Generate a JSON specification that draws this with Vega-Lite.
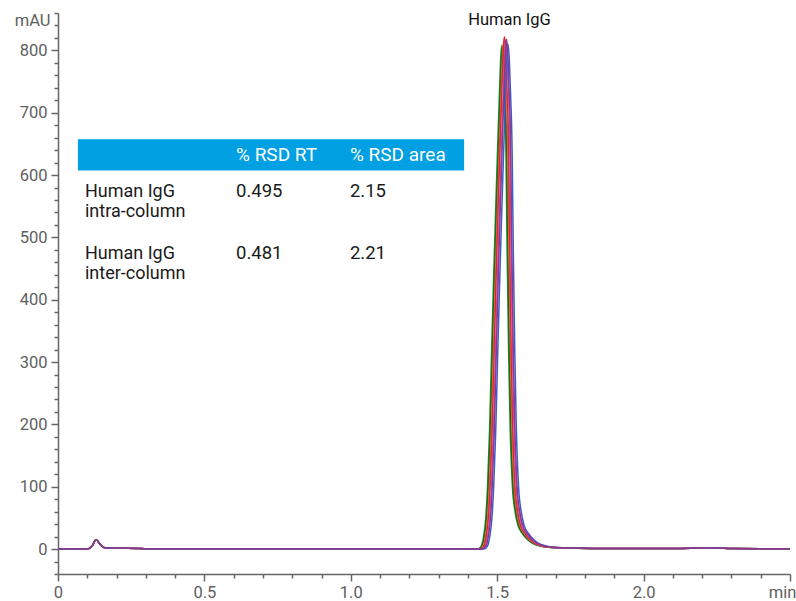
{
"$schema": "https://vega.github.io/schema/vega-lite/v6.json",
"width": 732, "height": 561,
"autosize": {"type": "none"},
"padding": {"left": 58, "top": 13, "right": 6, "bottom": 27},
"background": "white",
"config": {"view": {"stroke": null}, "font": "Roboto", "text": {"font": "Roboto"}},
"resolve": {"axis": {"x": "independent", "y": "independent"}},
"datasets": {
"traces": [
{"s":"1","t":0,"y":0},{"s":"1","t":0.1,"y":0},{"s":"1","t":0.115,"y":4},{"s":"1","t":0.13,"y":15},{"s":"1","t":0.145,"y":7},{"s":"1","t":0.16,"y":2},{"s":"1","t":0.2,"y":1.5},{"s":"1","t":0.28,"y":1},{"s":"1","t":0.32,"y":0.2},
{"s":"1","t":1.416,"y":0},{"s":"1","t":1.436,"y":0.5},{"s":"1","t":1.446,"y":5},{"s":"1","t":1.4535,"y":20},{"s":"1","t":1.461,"y":50},{"s":"1","t":1.467,"y":100},{"s":"1","t":1.474,"y":190},{"s":"1","t":1.481,"y":318},{"s":"1","t":1.488,"y":438},{"s":"1","t":1.495,"y":547},{"s":"1","t":1.501,"y":637},{"s":"1","t":1.508,"y":736},{"s":"1","t":1.513,"y":796},{"s":"1","t":1.516,"y":808},{"s":"1","t":1.52,"y":786},{"s":"1","t":1.524,"y":736},{"s":"1","t":1.53,"y":637},{"s":"1","t":1.534,"y":478},{"s":"1","t":1.539,"y":318},{"s":"1","t":1.544,"y":200},{"s":"1","t":1.552,"y":100},{"s":"1","t":1.561,"y":60},{"s":"1","t":1.571,"y":38},{"s":"1","t":1.586,"y":25},{"s":"1","t":1.604,"y":15},{"s":"1","t":1.626,"y":8},{"s":"1","t":1.646,"y":5},{"s":"1","t":1.671,"y":3},{"s":"1","t":1.716,"y":2},{"s":"1","t":1.816,"y":1},
{"s":"1","t":1.9,"y":1},{"s":"1","t":2.0,"y":0.8},{"s":"1","t":2.1,"y":0.8},{"s":"1","t":2.16,"y":1.2},{"s":"1","t":2.2,"y":2},{"s":"1","t":2.25,"y":1.8},{"s":"1","t":2.3,"y":0.8},{"s":"1","t":2.4,"y":0.5},{"s":"1","t":2.5,"y":0.5},

{"s":"2","t":0,"y":0},{"s":"2","t":0.1,"y":0},{"s":"2","t":0.115,"y":4},{"s":"2","t":0.13,"y":15},{"s":"2","t":0.145,"y":7},{"s":"2","t":0.16,"y":2},{"s":"2","t":0.2,"y":1.5},{"s":"2","t":0.28,"y":1},{"s":"2","t":0.32,"y":0.2},
{"s":"2","t":1.419,"y":0},{"s":"2","t":1.439,"y":0.5},{"s":"2","t":1.449,"y":5},{"s":"2","t":1.4565,"y":20},{"s":"2","t":1.464,"y":50},{"s":"2","t":1.47,"y":100},{"s":"2","t":1.477,"y":190},{"s":"2","t":1.484,"y":318},{"s":"2","t":1.491,"y":436},{"s":"2","t":1.498,"y":545},{"s":"2","t":1.504,"y":634},{"s":"2","t":1.511,"y":733},{"s":"2","t":1.516,"y":793},{"s":"2","t":1.519,"y":805},{"s":"2","t":1.523,"y":783},{"s":"2","t":1.527,"y":733},{"s":"2","t":1.533,"y":634},{"s":"2","t":1.537,"y":476},{"s":"2","t":1.542,"y":318},{"s":"2","t":1.547,"y":200},{"s":"2","t":1.555,"y":100},{"s":"2","t":1.564,"y":60},{"s":"2","t":1.574,"y":38},{"s":"2","t":1.589,"y":25},{"s":"2","t":1.607,"y":15},{"s":"2","t":1.629,"y":8},{"s":"2","t":1.649,"y":5},{"s":"2","t":1.674,"y":3},{"s":"2","t":1.719,"y":2},{"s":"2","t":1.819,"y":1},
{"s":"2","t":1.9,"y":1},{"s":"2","t":2.0,"y":0.8},{"s":"2","t":2.1,"y":0.8},{"s":"2","t":2.16,"y":1.2},{"s":"2","t":2.2,"y":2},{"s":"2","t":2.25,"y":1.8},{"s":"2","t":2.3,"y":0.8},{"s":"2","t":2.4,"y":0.5},{"s":"2","t":2.5,"y":0.5},

{"s":"3","t":0,"y":0},{"s":"3","t":0.1,"y":0},{"s":"3","t":0.115,"y":4},{"s":"3","t":0.13,"y":15},{"s":"3","t":0.145,"y":7},{"s":"3","t":0.16,"y":2},{"s":"3","t":0.2,"y":1.5},{"s":"3","t":0.28,"y":1},{"s":"3","t":0.32,"y":0.2},
{"s":"3","t":1.422,"y":0},{"s":"3","t":1.442,"y":0.5},{"s":"3","t":1.452,"y":5},{"s":"3","t":1.4595,"y":20},{"s":"3","t":1.467,"y":50},{"s":"3","t":1.473,"y":100},{"s":"3","t":1.48,"y":190},{"s":"3","t":1.487,"y":318},{"s":"3","t":1.494,"y":440},{"s":"3","t":1.501,"y":550},{"s":"3","t":1.507,"y":640},{"s":"3","t":1.514,"y":740},{"s":"3","t":1.519,"y":800},{"s":"3","t":1.522,"y":812},{"s":"3","t":1.526,"y":790},{"s":"3","t":1.53,"y":740},{"s":"3","t":1.536,"y":640},{"s":"3","t":1.54,"y":480},{"s":"3","t":1.545,"y":318},{"s":"3","t":1.55,"y":200},{"s":"3","t":1.558,"y":100},{"s":"3","t":1.567,"y":60},{"s":"3","t":1.577,"y":38},{"s":"3","t":1.592,"y":25},{"s":"3","t":1.61,"y":15},{"s":"3","t":1.632,"y":8},{"s":"3","t":1.652,"y":5},{"s":"3","t":1.677,"y":3},{"s":"3","t":1.722,"y":2},{"s":"3","t":1.822,"y":1},
{"s":"3","t":1.9,"y":1},{"s":"3","t":2.0,"y":0.8},{"s":"3","t":2.1,"y":0.8},{"s":"3","t":2.16,"y":1.2},{"s":"3","t":2.2,"y":2},{"s":"3","t":2.25,"y":1.8},{"s":"3","t":2.3,"y":0.8},{"s":"3","t":2.4,"y":0.5},{"s":"3","t":2.5,"y":0.5},

{"s":"4","t":0,"y":0},{"s":"4","t":0.1,"y":0},{"s":"4","t":0.115,"y":4},{"s":"4","t":0.13,"y":15},{"s":"4","t":0.145,"y":7},{"s":"4","t":0.16,"y":2},{"s":"4","t":0.2,"y":1.5},{"s":"4","t":0.28,"y":1},{"s":"4","t":0.32,"y":0.2},
{"s":"4","t":1.425,"y":0},{"s":"4","t":1.445,"y":0.5},{"s":"4","t":1.455,"y":5},{"s":"4","t":1.4625,"y":20},{"s":"4","t":1.47,"y":50},{"s":"4","t":1.476,"y":100},{"s":"4","t":1.483,"y":190},{"s":"4","t":1.49,"y":318},{"s":"4","t":1.497,"y":445},{"s":"4","t":1.504,"y":557},{"s":"4","t":1.51,"y":648},{"s":"4","t":1.517,"y":749},{"s":"4","t":1.522,"y":810},{"s":"4","t":1.525,"y":822},{"s":"4","t":1.529,"y":800},{"s":"4","t":1.533,"y":749},{"s":"4","t":1.539,"y":648},{"s":"4","t":1.543,"y":486},{"s":"4","t":1.548,"y":318},{"s":"4","t":1.553,"y":200},{"s":"4","t":1.561,"y":100},{"s":"4","t":1.57,"y":60},{"s":"4","t":1.58,"y":38},{"s":"4","t":1.595,"y":25},{"s":"4","t":1.613,"y":15},{"s":"4","t":1.635,"y":8},{"s":"4","t":1.655,"y":5},{"s":"4","t":1.68,"y":3},{"s":"4","t":1.725,"y":2},{"s":"4","t":1.825,"y":1},
{"s":"4","t":1.9,"y":1},{"s":"4","t":2.0,"y":0.8},{"s":"4","t":2.1,"y":0.8},{"s":"4","t":2.16,"y":1.2},{"s":"4","t":2.2,"y":2},{"s":"4","t":2.25,"y":1.8},{"s":"4","t":2.3,"y":0.8},{"s":"4","t":2.4,"y":0.5},{"s":"4","t":2.5,"y":0.5},

{"s":"5","t":0,"y":0},{"s":"5","t":0.1,"y":0},{"s":"5","t":0.115,"y":4},{"s":"5","t":0.13,"y":15},{"s":"5","t":0.145,"y":7},{"s":"5","t":0.16,"y":2},{"s":"5","t":0.2,"y":1.5},{"s":"5","t":0.28,"y":1},{"s":"5","t":0.32,"y":0.2},
{"s":"5","t":1.429,"y":0},{"s":"5","t":1.449,"y":0.5},{"s":"5","t":1.459,"y":5},{"s":"5","t":1.4665,"y":20},{"s":"5","t":1.474,"y":50},{"s":"5","t":1.48,"y":100},{"s":"5","t":1.487,"y":190},{"s":"5","t":1.494,"y":318},{"s":"5","t":1.501,"y":442},{"s":"5","t":1.508,"y":552},{"s":"5","t":1.514,"y":642},{"s":"5","t":1.521,"y":743},{"s":"5","t":1.526,"y":803},{"s":"5","t":1.529,"y":815},{"s":"5","t":1.533,"y":793},{"s":"5","t":1.537,"y":743},{"s":"5","t":1.543,"y":642},{"s":"5","t":1.547,"y":482},{"s":"5","t":1.552,"y":318},{"s":"5","t":1.557,"y":200},{"s":"5","t":1.565,"y":100},{"s":"5","t":1.574,"y":60},{"s":"5","t":1.584,"y":38},{"s":"5","t":1.599,"y":25},{"s":"5","t":1.617,"y":15},{"s":"5","t":1.639,"y":8},{"s":"5","t":1.659,"y":5},{"s":"5","t":1.684,"y":3},{"s":"5","t":1.729,"y":2},{"s":"5","t":1.829,"y":1},
{"s":"5","t":1.9,"y":1},{"s":"5","t":2.0,"y":0.8},{"s":"5","t":2.1,"y":0.8},{"s":"5","t":2.16,"y":1.2},{"s":"5","t":2.2,"y":2},{"s":"5","t":2.25,"y":1.8},{"s":"5","t":2.3,"y":0.8},{"s":"5","t":2.4,"y":0.5},{"s":"5","t":2.5,"y":0.5},

{"s":"6","t":0,"y":0},{"s":"6","t":0.1,"y":0},{"s":"6","t":0.115,"y":4},{"s":"6","t":0.13,"y":15},{"s":"6","t":0.145,"y":7},{"s":"6","t":0.16,"y":2},{"s":"6","t":0.2,"y":1.5},{"s":"6","t":0.28,"y":1},{"s":"6","t":0.32,"y":0.2},
{"s":"6","t":1.437,"y":0},{"s":"6","t":1.457,"y":0.5},{"s":"6","t":1.467,"y":5},{"s":"6","t":1.4745,"y":20},{"s":"6","t":1.482,"y":50},{"s":"6","t":1.488,"y":100},{"s":"6","t":1.495,"y":190},{"s":"6","t":1.502,"y":318},{"s":"6","t":1.509,"y":439},{"s":"6","t":1.516,"y":549},{"s":"6","t":1.522,"y":638},{"s":"6","t":1.529,"y":738},{"s":"6","t":1.534,"y":798},{"s":"6","t":1.537,"y":810},{"s":"6","t":1.541,"y":788},{"s":"6","t":1.545,"y":738},{"s":"6","t":1.551,"y":638},{"s":"6","t":1.555,"y":479},{"s":"6","t":1.56,"y":318},{"s":"6","t":1.565,"y":200},{"s":"6","t":1.573,"y":100},{"s":"6","t":1.582,"y":60},{"s":"6","t":1.592,"y":38},{"s":"6","t":1.607,"y":25},{"s":"6","t":1.625,"y":15},{"s":"6","t":1.647,"y":8},{"s":"6","t":1.667,"y":5},{"s":"6","t":1.692,"y":3},{"s":"6","t":1.737,"y":2},{"s":"6","t":1.837,"y":1},
{"s":"6","t":1.9,"y":1},{"s":"6","t":2.0,"y":0.8},{"s":"6","t":2.1,"y":0.8},{"s":"6","t":2.16,"y":1.2},{"s":"6","t":2.2,"y":2},{"s":"6","t":2.25,"y":1.8},{"s":"6","t":2.3,"y":0.8},{"s":"6","t":2.4,"y":0.5},{"s":"6","t":2.5,"y":0.5},

{"s":"7","t":0,"y":0},{"s":"7","t":0.1,"y":0},{"s":"7","t":0.115,"y":4},{"s":"7","t":0.13,"y":15},{"s":"7","t":0.145,"y":7},{"s":"7","t":0.16,"y":2},{"s":"7","t":0.2,"y":1.5},{"s":"7","t":0.28,"y":1},{"s":"7","t":0.32,"y":0.2},
{"s":"7","t":1.432,"y":0},{"s":"7","t":1.452,"y":0.5},{"s":"7","t":1.462,"y":5},{"s":"7","t":1.4695,"y":20},{"s":"7","t":1.477,"y":50},{"s":"7","t":1.483,"y":100},{"s":"7","t":1.49,"y":190},{"s":"7","t":1.497,"y":318},{"s":"7","t":1.504,"y":443},{"s":"7","t":1.511,"y":554},{"s":"7","t":1.517,"y":645},{"s":"7","t":1.524,"y":745},{"s":"7","t":1.529,"y":806},{"s":"7","t":1.532,"y":818},{"s":"7","t":1.536,"y":796},{"s":"7","t":1.54,"y":745},{"s":"7","t":1.546,"y":645},{"s":"7","t":1.55,"y":484},{"s":"7","t":1.555,"y":318},{"s":"7","t":1.56,"y":200},{"s":"7","t":1.568,"y":100},{"s":"7","t":1.577,"y":60},{"s":"7","t":1.587,"y":38},{"s":"7","t":1.602,"y":25},{"s":"7","t":1.62,"y":15},{"s":"7","t":1.642,"y":8},{"s":"7","t":1.662,"y":5},{"s":"7","t":1.687,"y":3},{"s":"7","t":1.732,"y":2},{"s":"7","t":1.832,"y":1},
{"s":"7","t":1.9,"y":1},{"s":"7","t":2.0,"y":0.8},{"s":"7","t":2.1,"y":0.8},{"s":"7","t":2.16,"y":1.2},{"s":"7","t":2.2,"y":2},{"s":"7","t":2.25,"y":1.8},{"s":"7","t":2.3,"y":0.8},{"s":"7","t":2.4,"y":0.5},{"s":"7","t":2.5,"y":0.5}
],
"table": [
{"row": 1, "sample": "Human IgG\nintra-column", "rt": "0.495", "area": "2.15"},
{"row": 2, "sample": "Human IgG\ninter-column", "rt": "0.481", "area": "2.21"}
],
"header": [
{"col": "rt", "label": "% RSD RT"},
{"col": "area", "label": "% RSD area"}
],
"peaks": [
{"name": "Human IgG"}
]
},
"layer": [
{
"data": {"name": "traces"},
"mark": {"type": "line", "strokeWidth": 1.5, "interpolate": "monotone"},
"encoding": {
"x": {"field": "t", "type": "quantitative",
  "scale": {"domain": [0, 2.5], "nice": false, "zero": false},
  "axis": {"title": null, "grid": false,
    "values": [0,0.1,0.2,0.3,0.4,0.5,0.6,0.7,0.8,0.9,1,1.1,1.2,1.3,1.4,1.5,1.6,1.7,1.8,1.9,2,2.1,2.2,2.3,2.4,2.5],
    "labelExpr": "datum.value === 2.5 ? 'min' : (datum.value === 0 ? '0' : (round(datum.value * 10) % 5 === 0 ? format(datum.value, '.1f') : ''))",
    "tickSize": {"condition": {"test": "round(datum.value * 10) % 5 === 0", "value": 7}, "value": 4},
    "labelOffset": {"condition": {"test": "datum.value === 2.5", "value": -8}, "value": 0},
    "labelFontSize": 16.5, "labelColor": "#606060", "labelPadding": 3,
    "domainColor": "#666666", "domainWidth": 1.5, "tickColor": "#666666", "tickWidth": 1.5,
    "labelOverlap": false, "labelFlush": false, "labelBound": false}},
"y": {"field": "y", "type": "quantitative",
  "scale": {"domain": [-40, 860], "nice": false, "zero": false},
  "axis": {"title": null, "grid": false,
    "values": [-40,-20,0,20,40,60,80,100,120,140,160,180,200,220,240,260,280,300,320,340,360,380,400,420,440,460,480,500,520,540,560,580,600,620,640,660,680,700,720,740,760,780,800,820,840,860],
    "labelExpr": "datum.value === 860 ? 'mAU' : (datum.value % 100 === 0 ? datum.label : '')",
    "tickSize": {"condition": {"test": "datum.value % 100 === 0", "value": 7}, "value": 4},
    "labelOffset": {"condition": {"test": "datum.value === 860", "value": 7}, "value": 0},
    "labelFontSize": 16.5, "labelColor": "#606060", "labelPadding": 4,
    "domainColor": "#666666", "domainWidth": 1.5, "tickColor": "#666666", "tickWidth": 1.5,
    "labelOverlap": false, "labelBound": false}},
"color": {"field": "s", "type": "nominal",
  "scale": {"domain": ["1","2","3","4","5","6","7"], "range": ["#1e8c2b","#0d5e1c","#d4782c","#e3202d","#d050a8","#3b5bd0","#8a3a86"]},
  "legend": null}
}
},
{
"data": {"name": "peaks"},
"mark": {"type": "rect", "color": "#00a0e2"},
"encoding": {"x": {"datum": 0.068, "axis": null}, "x2": {"datum": 1.387}, "y": {"datum": 657.5, "axis": null}, "y2": {"datum": 607.5}}
},
{
"data": {"name": "header"},
"transform": [{"filter": "datum.col === 'rt'"}],
"mark": {"type": "text", "color": "white", "fontSize": 19, "align": "left", "baseline": "alphabetic"},
"encoding": {"x": {"datum": 0.608, "axis": null}, "y": {"datum": 622.7, "axis": null}, "text": {"field": "label"}}
},
{
"data": {"name": "header"},
"transform": [{"filter": "datum.col === 'area'"}],
"mark": {"type": "text", "color": "white", "fontSize": 19, "align": "left", "baseline": "alphabetic"},
"encoding": {"x": {"datum": 0.997, "axis": null}, "y": {"datum": 622.7, "axis": null}, "text": {"field": "label"}}
},
{
"data": {"name": "table"},
"transform": [{"filter": "datum.row === 1"}],
"mark": {"type": "text", "color": "#1a1a1a", "fontSize": 18, "align": "left", "baseline": "alphabetic", "lineBreak": "\n", "lineHeight": 20.4},
"encoding": {"x": {"datum": 0.092, "axis": null}, "y": {"datum": 565, "axis": null}, "text": {"field": "sample"}}
},
{
"data": {"name": "table"},
"transform": [{"filter": "datum.row === 1"}],
"mark": {"type": "text", "color": "#1a1a1a", "fontSize": 18.5, "align": "left", "baseline": "alphabetic"},
"encoding": {"x": {"datum": 0.608, "axis": null}, "y": {"datum": 565, "axis": null}, "text": {"field": "rt"}}
},
{
"data": {"name": "table"},
"transform": [{"filter": "datum.row === 1"}],
"mark": {"type": "text", "color": "#1a1a1a", "fontSize": 18.5, "align": "left", "baseline": "alphabetic"},
"encoding": {"x": {"datum": 0.997, "axis": null}, "y": {"datum": 565, "axis": null}, "text": {"field": "area"}}
},
{
"data": {"name": "table"},
"transform": [{"filter": "datum.row === 2"}],
"mark": {"type": "text", "color": "#1a1a1a", "fontSize": 18, "align": "left", "baseline": "alphabetic", "lineBreak": "\n", "lineHeight": 20.4},
"encoding": {"x": {"datum": 0.092, "axis": null}, "y": {"datum": 466, "axis": null}, "text": {"field": "sample"}}
},
{
"data": {"name": "table"},
"transform": [{"filter": "datum.row === 2"}],
"mark": {"type": "text", "color": "#1a1a1a", "fontSize": 18.5, "align": "left", "baseline": "alphabetic"},
"encoding": {"x": {"datum": 0.608, "axis": null}, "y": {"datum": 466, "axis": null}, "text": {"field": "rt"}}
},
{
"data": {"name": "table"},
"transform": [{"filter": "datum.row === 2"}],
"mark": {"type": "text", "color": "#1a1a1a", "fontSize": 18.5, "align": "left", "baseline": "alphabetic"},
"encoding": {"x": {"datum": 0.997, "axis": null}, "y": {"datum": 466, "axis": null}, "text": {"field": "area"}}
},
{
"data": {"name": "peaks"},
"mark": {"type": "text", "color": "#111111", "fontSize": 16.5, "align": "center", "baseline": "alphabetic"},
"encoding": {"x": {"datum": 1.542, "axis": null}, "y": {"datum": 840, "axis": null}, "text": {"field": "name"}}
}
]
}
